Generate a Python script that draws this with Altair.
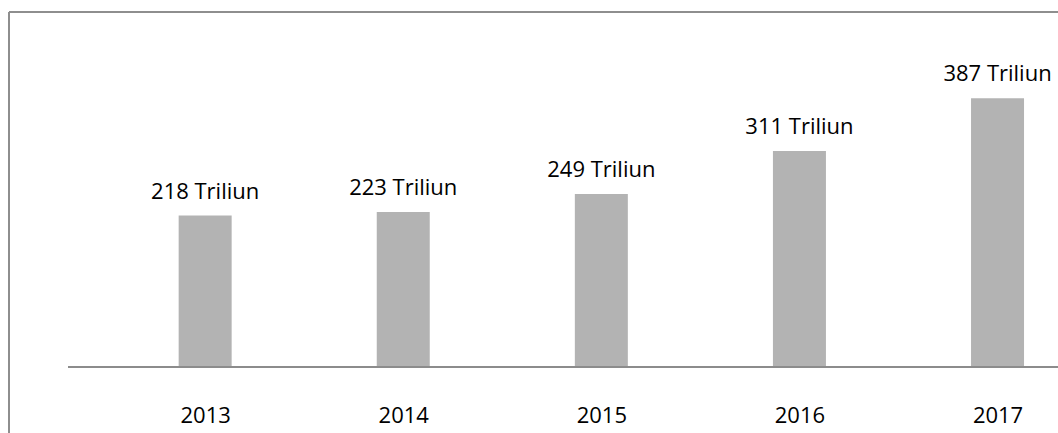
import altair as alt
import pandas as pd

years = [2013, 2014, 2015, 2016, 2017]
values = [218, 223, 249, 311, 387]
labels = [f"{v} Triliun" for v in values]

df = pd.DataFrame({"year": years, "value": values, "label": labels})

W, H = 1049, 421
FONT = "Open Sans"

xscale = alt.Scale(domain=[2012.035, 2017.28], nice=False, zero=False)
yscale = alt.Scale(domain=[-95, 511], nice=False, zero=False)

base = alt.Chart(df)

bars = base.mark_bar(size=53, color="#b3b3b3").encode(
    x=alt.X("year:Q", scale=xscale,
            axis=alt.Axis(orient="bottom", offset=-66, values=years, format="d",
                          domain=False, ticks=False, tickSize=0, grid=False,
                          labelPadding=55, labelBaseline="alphabetic",
                          labelFont=FONT, labelFontSize=22, labelColor="#000000",
                          title=None)),
    y=alt.Y("value:Q", scale=yscale, axis=None),
    y2=alt.datum(0),
)

text = base.mark_text(dy=-17, baseline="alphabetic", align="center",
                      font=FONT, fontSize=22, color="#000000").encode(
    x=alt.X("year:Q", scale=xscale),
    y=alt.Y("value:Q", scale=yscale),
    text="label:N",
)

baseline = alt.Chart(pd.DataFrame({"v": [0]})).mark_rule(color="#8c8c8c", strokeWidth=2).encode(
    x=alt.value(59), x2=alt.value(W), y=alt.Y("v:Q", scale=yscale)
)

frame_left = alt.Chart(pd.DataFrame({"v": [0]})).mark_rule(color="#8e8e8e", strokeWidth=2).encode(
    x=alt.value(0), y=alt.value(0), y2=alt.value(H)
)
frame_top = alt.Chart(pd.DataFrame({"v": [0]})).mark_rule(color="#8e8e8e", strokeWidth=2).encode(
    x=alt.value(0), x2=alt.value(W), y=alt.value(0)
)

chart = alt.layer(bars, baseline, text, frame_left, frame_top).properties(
    width=W, height=H,
    autosize=alt.AutoSizeParams(type="none"),
    padding={"left": 9, "top": 12, "right": 0, "bottom": 0},
    background="white",
).configure_view(stroke=None)

chart.save("out.html", embed_options={"renderer": "svg", "actions": False})
